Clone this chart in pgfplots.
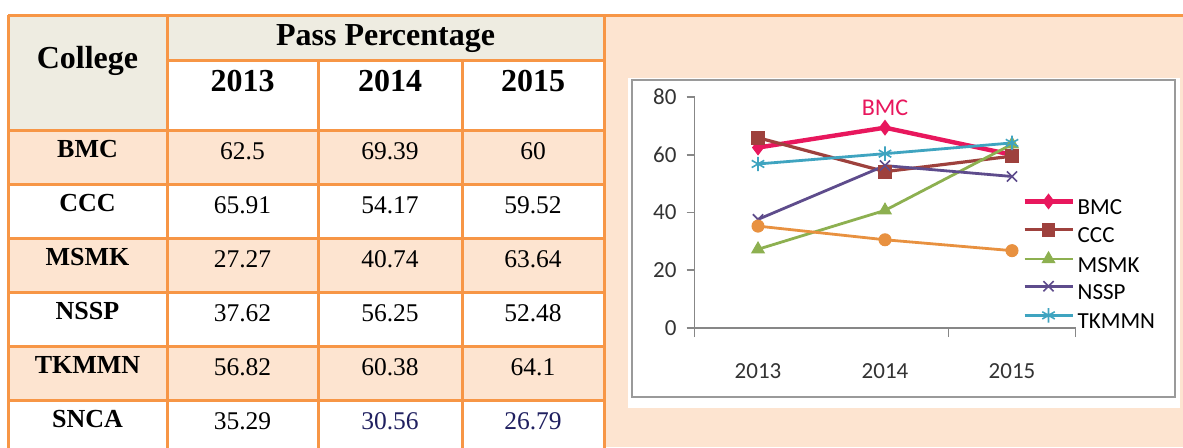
\documentclass[border=0pt]{standalone}
\usepackage{fontspec}
\setmainfont{Liberation Serif}
\newfontfamily\chartfont{Carlito}
\usepackage{pgfplots}
\pgfplotsset{compat=1.18}

\definecolor{tblorange}{HTML}{F79646}
\definecolor{peach}{HTML}{FDE4D0}
\definecolor{beige}{HTML}{EEECE1}
\definecolor{navy}{HTML}{202060}
\definecolor{axisgray}{HTML}{878787}
\definecolor{boxgray}{HTML}{9A9A9A}
\definecolor{bmccol}{HTML}{E8175D}
\definecolor{ccccol}{HTML}{9E413D}
\definecolor{msmkcol}{HTML}{8DB050}
\definecolor{nsspcol}{HTML}{5E4C8C}
\definecolor{tkmmncol}{HTML}{3FA4C0}
\definecolor{sncacol}{HTML}{E89140}

\begin{document}
\begin{tikzpicture}
\clip (0,0) rectangle (591.5pt,223.5pt);
% table and panel, drawn in pixel units (y down)
\begin{scope}[x=0.5pt,y=-0.5pt,shift={(0,223.5pt)}]
  \fill[white] (0,0) rectangle (1183,447);
  \fill[peach] (604,15) rectangle (1183,447);
  \fill[beige] (8,15) rectangle (167,130);
  \fill[beige] (167,15) rectangle (604,60);
  \foreach \r in {0,2,4}
    \fill[peach] (8,130+54*\r) rectangle (604,184+54*\r);
  % chart box
  \fill[white] (628,78) rectangle (1180,408);
  \draw[boxgray, line width=1pt] (632,80) rectangle (1175,397);
  % grid lines
  \begin{scope}[tblorange, line width=1.5pt]
    \draw (8,15) -- (1183,15);
    \draw (167,60) -- (604,60);
    \foreach \y in {130,184,238,292,346,400}
      \draw (8,\y) -- (604,\y);
    \draw (8,15) -- (8,460);
    \draw (167,15) -- (167,460);
    \draw (318,60) -- (318,460);
    \draw (462,60) -- (462,460);
    \draw (604,15) -- (604,460);
  \end{scope}
  % header text
  \begin{scope}[every node/.style={anchor=base, font=\bfseries\fontsize{16}{18}\selectfont}]
    \node at (87.5,68) {College};
    \node at (385.5,45) {Pass Percentage};
    \node at (242.5,91) {2013};
    \node at (390,91) {2014};
    \node at (533,91) {2015};
  \end{scope}
  % body text
  \foreach \name/\a/\b/\c [count=\i from 0] in
    {BMC/62.5/69.39/60, CCC/65.91/54.17/59.52, MSMK/27.27/40.74/63.64,
     NSSP/37.62/56.25/52.48, TKMMN/56.82/60.38/64.1}{
    \node[anchor=base, font=\bfseries\fontsize{13}{15}\selectfont] at (87.5,157.5+54*\i) {\name};
    \node[anchor=base, font=\fontsize{12.75}{15}\selectfont] at (242.5,159+54*\i) {\a};
    \node[anchor=base, font=\fontsize{12.75}{15}\selectfont] at (390,159+54*\i) {\b};
    \node[anchor=base, font=\fontsize{12.75}{15}\selectfont] at (533,159+54*\i) {\c};
  }
  \node[anchor=base, font=\bfseries\fontsize{13}{15}\selectfont] at (87.5,427.5) {SNCA};
  \node[anchor=base, font=\fontsize{12.75}{15}\selectfont] at (242.5,429) {35.29};
  \node[anchor=base, font=\fontsize{12.75}{15}\selectfont, text=navy] at (390,429) {30.56};
  \node[anchor=base, font=\fontsize{12.75}{15}\selectfont, text=navy] at (533,429) {26.79};
\end{scope}

\begin{axis}[
  at={(347.25pt,59.5pt)}, anchor=south west,
  scale only axis, width=190.5pt, height=115.5pt,
  xmin=2012.5, xmax=2015.5, ymin=0, ymax=80,
  clip=false,
  axis lines=left,
  axis line style={draw=axisgray, line width=0.9pt, -},
  tick style={draw=axisgray, line width=0.9pt},
  tick align=outside,
  major tick length=4pt,
  minor tick length=4.5pt,
  xtick={2013,2014,2015}, xticklabels={2013,2014,2015},
  major x tick style={draw=none},
  minor xtick={2012.5,2014.5,2015.5},
  ytick={0,20,40,60,80},
  /pgf/number format/assume math mode=true,
  ticklabel style={font=\chartfont\fontsize{11.5}{13}\selectfont, text=black!80},
  xticklabel style={yshift=-10pt},
  yticklabel style={xshift=-1.5pt},
  legend style={at={(0.841,0.598)}, anchor=north west, draw=none, fill=none,
    font=\chartfont\fontsize{11.5}{13}\selectfont, row sep=2pt,
    nodes={inner sep=0.5pt, text height=8pt, text depth=2pt}},
  legend cell align=left,
  legend image code/.code={
    \path (-0.5pt,3.5pt) (25pt,3.5pt);
    \draw[mark repeat=2,mark phase=2] plot coordinates {(0pt,3.5pt) (12pt,3.5pt) (24pt,3.5pt)};},
]
\addplot[color=bmccol, line width=2.2pt, mark=diamond*, mark size=3.6pt, mark options={solid, line width=0.5pt}]
  coordinates {(2013,62.5) (2014,69.39) (2015,60)};
\addlegendentry{BMC}
\addplot[color=ccccol, line width=1.6pt, mark=square*, mark size=3.2pt, mark options={solid, line width=0.5pt}]
  coordinates {(2013,65.91) (2014,54.17) (2015,59.52)};
\addlegendentry{CCC}
\addplot[color=msmkcol, line width=1.4pt, mark=triangle*, mark size=3.6pt, mark options={solid, line width=0.5pt}]
  coordinates {(2013,27.27) (2014,40.74) (2015,63.64)};
\addlegendentry{MSMK}
\addplot[color=nsspcol, line width=1.4pt, mark=x, mark size=3.6pt, mark options={solid, line width=0.8pt}]
  coordinates {(2013,37.62) (2014,56.25) (2015,52.48)};
\addlegendentry{NSSP}
\addplot[color=tkmmncol, line width=1.4pt, mark=asterisk, mark size=3.6pt, mark options={solid, line width=0.8pt}]
  coordinates {(2013,56.82) (2014,60.38) (2015,64.1)};
\addlegendentry{TKMMN}
\addplot[color=sncacol, line width=1.4pt, mark=*, mark size=3pt, mark options={solid, line width=0.5pt}, forget plot]
  coordinates {(2013,35.29) (2014,30.56) (2015,26.79)};
\node[anchor=base, yshift=6pt, font=\chartfont\fontsize{12}{14}\selectfont, text=bmccol] at (axis cs:2014,69.39) {BMC};
\end{axis}
\end{tikzpicture}
\end{document}
